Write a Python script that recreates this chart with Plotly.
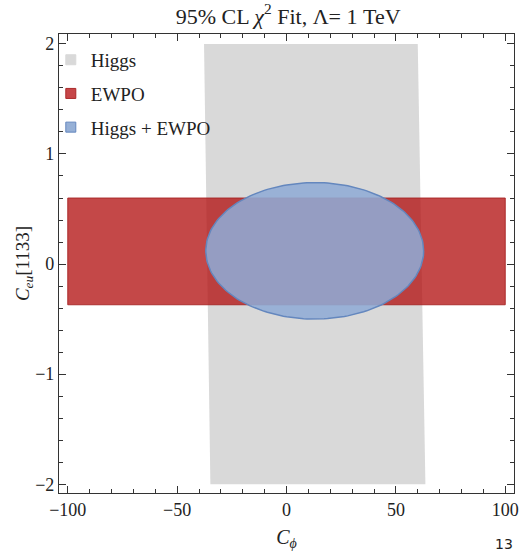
import plotly.graph_objects as go
import numpy as np

# Higgs allowed region (quadrilateral corners)
higgs_x = [-37.7, 60.0, 63.5, -34.8, -37.7]
higgs_y = [2.0, 2.0, -2.0, -2.0, 2.0]

# EWPO allowed band
ewpo_x = [-100, 100, 100, -100, -100]
ewpo_y = [0.60, 0.60, -0.37, -0.37, 0.60]

# Combined fit ellipse parameters
ell_center = (12.9, 0.12)
ell_radii = (49.8, 0.62)

t = np.linspace(0, 2 * np.pi, 200)
ell_x = ell_center[0] + ell_radii[0] * np.cos(t)
ell_y = ell_center[1] + ell_radii[1] * np.sin(t)

SERIF = "Liberation Serif, DejaVu Serif, serif"

higgs_col = "rgb(217,217,217)"
ewpo_fill = "rgba(176,11,11,0.75)"
ewpo_line = "rgba(165,30,30,0.85)"
comb_fill = "rgba(143,171,213,0.88)"
comb_line = "rgb(100,135,190)"

fig = go.Figure()
fig.add_trace(go.Scatter(x=higgs_x, y=higgs_y, fill="toself", mode="lines",
                         fillcolor=higgs_col, line=dict(width=0, color=higgs_col),
                         showlegend=False, hoverinfo="skip"))
fig.add_trace(go.Scatter(x=ewpo_x, y=ewpo_y, fill="toself", mode="lines",
                         fillcolor=ewpo_fill, line=dict(width=1, color=ewpo_line),
                         showlegend=False, hoverinfo="skip"))
fig.add_trace(go.Scatter(x=ell_x, y=ell_y, fill="toself", mode="lines",
                         fillcolor=comb_fill, line=dict(width=1.5, color=comb_line),
                         showlegend=False, hoverinfo="skip"))

# legend entries (square markers)
for name, fc, lc, g in [("Higgs", higgs_col, higgs_col, "a"),
                        ("EWPO", "rgb(198,70,72)", "rgb(170,40,40)", "b"),
                        ("Higgs + EWPO", "rgb(150,176,214)", comb_line, "c")]:
    fig.add_trace(go.Scatter(x=[None], y=[None], mode="markers", name=name, legendgroup=g,
                             marker=dict(symbol="square", size=10, color=fc, line=dict(width=1, color=lc))))

axis_common = dict(
    showline=True, linecolor="#333", linewidth=1.2, mirror="allticks",
    ticks="inside", ticklen=7, tickwidth=1, tickcolor="#333",
    showgrid=False, zeroline=False, ticklabeloverflow="allow",
    tickfont=dict(family=SERIF, size=18, color="#222"),
)
fig.update_xaxes(range=[-104, 104], tickvals=[-100, -50, 0, 50, 100],
                 ticktext=["\u2212100", "\u221250", "0", "50", "100"],
                 minor=dict(dtick=10, ticklen=4, ticks="inside", tickcolor="#333"),
                 title=dict(text="<i>C</i><sub><i>\u03d5</i></sub>", font=dict(family=SERIF, size=20, color="#222"), standoff=11),
                 **axis_common)
fig.update_yaxes(range=[-2.08, 2.09], tickvals=[-2, -1, 0, 1, 2],
                 ticktext=["\u22122", "\u22121", "0", "1", "2"],
                 minor=dict(dtick=0.2, ticklen=4, ticks="inside", tickcolor="#333"),
                 title=dict(text="<i>C</i><sub><i>eu</i></sub>[1133]", font=dict(family=SERIF, size=19, color="#222"), standoff=0),
                 **axis_common)

fig.update_layout(
    width=522, height=553,
    margin=dict(l=59, r=3, t=34, b=60),
    plot_bgcolor="white", paper_bgcolor="white",
    title=dict(text="95% CL <i>\u03c7</i><sup>2</sup> Fit, \u039b= 1 TeV", x=0.552, xanchor="center",
               y=0.971, yanchor="middle", font=dict(family=SERIF, size=22, color="#222")),
    legend=dict(x=-0.018, y=0.985, xanchor="left", yanchor="top", bgcolor="rgba(0,0,0,0)",
                font=dict(family=SERIF, size=19, color="#222"), tracegroupgap=6, itemwidth=30),
    showlegend=True,
)
fig.layout.annotations = [dict(text="13", x=1.002, y=-0.111, xref="paper", yref="paper", xanchor="right",
                               yanchor="middle", showarrow=False,
                               font=dict(family="DejaVu Sans, sans-serif", size=14, color="#222"))]

fig.write_html("out.html")
